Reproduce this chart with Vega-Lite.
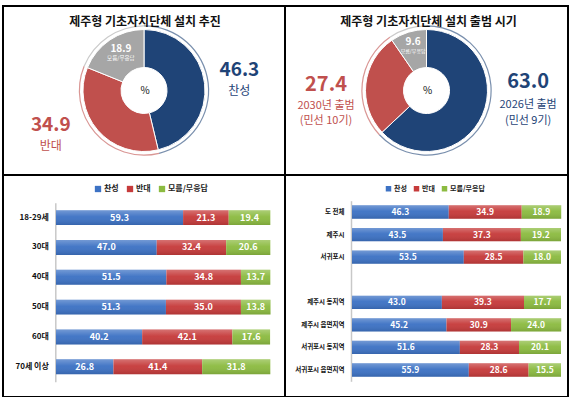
{
  "$schema": "https://vega.github.io/schema/vega-lite/v6.json",
  "background": "white",
  "padding": {"left": 2, "top": 5, "right": 0, "bottom": 0},
  "spacing": 0,
  "bounds": "flush",
  "columns": 2,
  "resolve": {"scale": {"color": "independent", "theta": "independent", "x": "independent", "y": "independent"}},
  "config": {
    "font": "Noto Sans CJK KR",
    "view": {"stroke": "#000000", "strokeWidth": 2},
    "concat": {"spacing": 0}
  },
  "concat": [
    {
      "width": 282,
      "height": 169,
      "view": {"stroke": "#000000", "strokeWidth": 2},
      "data": {"values": [
        {"k": 1, "cat": "찬성", "val": 46.3},
        {"k": 2, "cat": "반대", "val": 34.9},
        {"k": 3, "cat": "모름/무응답", "val": 18.9}
      ]},
      "encoding": {
        "theta": {"field": "val", "type": "quantitative", "stack": true},
        "order": {"field": "k", "type": "quantitative"},
        "color": {"field": "cat", "type": "nominal", "legend": null,
          "scale": {"domain": ["찬성", "반대", "모름/무응답"], "range": ["#1F4477", "#C0504D", "#A6A6A6"]}}
      },
      "layer": [
        {"mark": {"type": "arc", "innerRadius": 23, "outerRadius": 61, "stroke": "white", "strokeWidth": 1}},
        {"mark": {"type": "arc", "innerRadius": 64, "outerRadius": 65.2, "opacity": 0.6}},
        {"mark": {"type": "text", "radius": 0, "fontSize": 12, "fontWeight": "bold", "dx": 1, "dy": -69, "clip": true},
         "encoding": {"color": {"value": "#111111"}, "text": {"condition": {"test": "datum.k==1", "value": "제주형 기초자치단체 설치 추진"}, "value": ""}}},
        {"mark": {"type": "text", "radius": 0, "fontSize": 10, "dx": 1, "clip": true},
         "encoding": {"color": {"value": "#111111"}, "text": {"condition": {"test": "datum.k==1", "value": "%"}, "value": ""}}},
        {"mark": {"type": "text", "radius": 90, "fontSize": 19, "fontWeight": "bold", "dx": 6, "dy": -10, "clip": true},
         "encoding": {"text": {"condition": {"test": "datum.k==1", "field": "val", "type": "quantitative", "format": ".1f"}, "value": ""}}},
        {"mark": {"type": "text", "radius": 90, "fontSize": 12, "dx": 6, "dy": 11, "clip": true},
         "encoding": {"text": {"condition": {"test": "datum.k==1", "field": "cat"}, "value": ""}}},
        {"mark": {"type": "text", "radius": 90, "fontSize": 19, "fontWeight": "bold", "dx": -25, "dy": -24, "clip": true},
         "encoding": {"text": {"condition": {"test": "datum.k==2", "field": "val", "type": "quantitative", "format": ".1f"}, "value": ""}}},
        {"mark": {"type": "text", "radius": 90, "fontSize": 12, "dx": -25, "dy": -3, "clip": true},
         "encoding": {"text": {"condition": {"test": "datum.k==2", "field": "cat"}, "value": ""}}},
        {"mark": {"type": "text", "radius": 45, "fontSize": 10, "fontWeight": "bold", "dx": 2, "dy": -4, "clip": true},
         "encoding": {"color": {"value": "white"}, "text": {"condition": {"test": "datum.k==3", "field": "val", "type": "quantitative", "format": ".1f"}, "value": ""}}},
        {"mark": {"type": "text", "radius": 45, "fontSize": 5.5, "dx": 2, "dy": 5, "clip": true},
         "encoding": {"color": {"value": "white"}, "text": {"condition": {"test": "datum.k==3", "field": "cat"}, "value": ""}}}
      ]
    },
    {
      "width": 283,
      "height": 169,
      "view": {"stroke": "#000000", "strokeWidth": 2},
      "data": {"values": [
        {"k": 1, "cat": "찬성", "val": 63.0, "line1": "2026년 출범", "line2": "(민선 9기)"},
        {"k": 2, "cat": "반대", "val": 27.4, "line1": "2030년 출범", "line2": "(민선 10기)"},
        {"k": 3, "cat": "모름/무응답", "val": 9.6, "line1": "", "line2": ""}
      ]},
      "encoding": {
        "theta": {"field": "val", "type": "quantitative", "stack": true},
        "order": {"field": "k", "type": "quantitative"},
        "color": {"field": "cat", "type": "nominal", "legend": null,
          "scale": {"domain": ["찬성", "반대", "모름/무응답"], "range": ["#1F4477", "#C0504D", "#A6A6A6"]}}
      },
      "layer": [
        {"mark": {"type": "arc", "innerRadius": 23, "outerRadius": 61, "stroke": "white", "strokeWidth": 1}},
        {"mark": {"type": "arc", "innerRadius": 64, "outerRadius": 65.2, "opacity": 0.6}},
        {"mark": {"type": "text", "radius": 0, "fontSize": 12, "fontWeight": "bold", "dx": 2, "dy": -69, "clip": true},
         "encoding": {"color": {"value": "#111111"}, "text": {"condition": {"test": "datum.k==1", "value": "제주형 기초자치단체 설치 출범 시기"}, "value": ""}}},
        {"mark": {"type": "text", "radius": 0, "fontSize": 10, "dx": 1, "clip": true},
         "encoding": {"color": {"value": "#111111"}, "text": {"condition": {"test": "datum.k==1", "value": "%"}, "value": ""}}},
        {"mark": {"type": "text", "radius": 90, "fontSize": 20, "fontWeight": "bold", "dx": 19, "dy": -44, "clip": true},
         "encoding": {"text": {"condition": {"test": "datum.k==1", "field": "val", "type": "quantitative", "format": ".1f"}, "value": ""}}},
        {"mark": {"type": "text", "radius": 90, "fontSize": 11, "dx": 19, "dy": -21, "clip": true},
         "encoding": {"text": {"condition": {"test": "datum.k==1", "field": "line1"}, "value": ""}}},
        {"mark": {"type": "text", "radius": 90, "fontSize": 11, "dx": 19, "dy": -5, "clip": true},
         "encoding": {"text": {"condition": {"test": "datum.k==1", "field": "line2"}, "value": ""}}},
        {"mark": {"type": "text", "radius": 90, "fontSize": 20, "fontWeight": "bold", "dx": -11, "dy": 4, "clip": true},
         "encoding": {"text": {"condition": {"test": "datum.k==2", "field": "val", "type": "quantitative", "format": ".1f"}, "value": ""}}},
        {"mark": {"type": "text", "radius": 90, "fontSize": 11, "dx": -11, "dy": 25, "clip": true},
         "encoding": {"text": {"condition": {"test": "datum.k==2", "field": "line1"}, "value": ""}}},
        {"mark": {"type": "text", "radius": 90, "fontSize": 11, "dx": -11, "dy": 40, "clip": true},
         "encoding": {"text": {"condition": {"test": "datum.k==2", "field": "line2"}, "value": ""}}},
        {"mark": {"type": "text", "radius": 45, "fontSize": 10, "fontWeight": "bold", "dx": 0, "dy": -6, "clip": true},
         "encoding": {"color": {"value": "white"}, "text": {"condition": {"test": "datum.k==3", "field": "val", "type": "quantitative", "format": ".1f"}, "value": ""}}},
        {"mark": {"type": "text", "radius": 45, "fontSize": 5, "dx": 0, "dy": 3, "clip": true},
         "encoding": {"color": {"value": "white"}, "text": {"condition": {"test": "datum.k==3", "field": "cat"}, "value": ""}}}
      ]
    },
    {
      "width": 282,
      "height": 222,
      "data": {"values": [
        {"grp": "18-29세", "k": 1, "cat": "찬성", "val": 59.3},
        {"grp": "18-29세", "k": 2, "cat": "반대", "val": 21.3},
        {"grp": "18-29세", "k": 3, "cat": "모름/무응답", "val": 19.4},
        {"grp": "30대", "k": 1, "cat": "찬성", "val": 47.0},
        {"grp": "30대", "k": 2, "cat": "반대", "val": 32.4},
        {"grp": "30대", "k": 3, "cat": "모름/무응답", "val": 20.6},
        {"grp": "40대", "k": 1, "cat": "찬성", "val": 51.5},
        {"grp": "40대", "k": 2, "cat": "반대", "val": 34.8},
        {"grp": "40대", "k": 3, "cat": "모름/무응답", "val": 13.7},
        {"grp": "50대", "k": 1, "cat": "찬성", "val": 51.3},
        {"grp": "50대", "k": 2, "cat": "반대", "val": 35.0},
        {"grp": "50대", "k": 3, "cat": "모름/무응답", "val": 13.8},
        {"grp": "60대", "k": 1, "cat": "찬성", "val": 40.2},
        {"grp": "60대", "k": 2, "cat": "반대", "val": 42.1},
        {"grp": "60대", "k": 3, "cat": "모름/무응답", "val": 17.6},
        {"grp": "70세 이상", "k": 1, "cat": "찬성", "val": 26.8},
        {"grp": "70세 이상", "k": 2, "cat": "반대", "val": 41.4},
        {"grp": "70세 이상", "k": 3, "cat": "모름/무응답", "val": 31.8}
      ]},
      "encoding": {
        "y": {"field": "grp", "type": "nominal",
          "scale": {"domain": ["18-29세", "30대", "40대", "50대", "60대", "70세 이상"], "range": [27.7, 206.7], "paddingInner": 0.5, "paddingOuter": 0.25},
          "axis": {"title": null, "offset": -52.3, "ticks": false, "domainColor": "#C8C8C8", "domainWidth": 1.5, "labelPadding": 7, "labelFontSize": 8, "labelFontWeight": "bold", "labelColor": "#111111"}},
        "order": {"field": "k", "type": "quantitative"}
      },
      "layer": [
        {"mark": {"type": "bar"},
         "encoding": {
           "x": {"field": "val", "type": "quantitative", "stack": "zero", "axis": null, "scale": {"domain": [0, 100], "nice": false, "range": [53, 267.3]}},
           "color": {"field": "cat", "type": "nominal",
             "scale": {"domain": ["찬성", "반대", "모름/무응답"], "range": ["#3D72C4", "#C63B3B", "#8CBB41"]},
             "legend": {"orient": "none", "legendX": 91, "legendY": 10, "direction": "horizontal", "title": null, "symbolType": "square", "symbolSize": 40, "symbolStrokeWidth": 0, "labelFontSize": 8, "labelFontWeight": "bold", "labelColor": "#222222", "columnPadding": 7, "labelOffset": 2}}
         }},
        {"mark": {"type": "bar", "fill": {"gradient": "linear", "x1": 0, "y1": 0, "x2": 0, "y2": 1, "stops": [{"offset": 0, "color": "rgba(255,255,255,0.28)"}, {"offset": 0.45, "color": "rgba(255,255,255,0.04)"}, {"offset": 1, "color": "rgba(0,0,0,0.12)"}]}},
         "encoding": {
           "x": {"field": "val", "type": "quantitative", "stack": "zero"},
           "detail": {"field": "cat"}
         }},
        {"mark": {"type": "text", "color": "white", "fontWeight": "bold", "fontSize": 9},
         "encoding": {
           "x": {"field": "val", "type": "quantitative", "stack": "zero", "bandPosition": 0.5},
           "detail": {"field": "cat"},
           "text": {"field": "val", "type": "quantitative", "format": ".1f"}
         }}
      ]
    },
    {
      "width": 283,
      "height": 222,
      "data": {"values": [
        {"grp": "도 전체", "k": 1, "cat": "찬성", "val": 46.3},
        {"grp": "도 전체", "k": 2, "cat": "반대", "val": 34.9},
        {"grp": "도 전체", "k": 3, "cat": "모름/무응답", "val": 18.9},
        {"grp": "제주시", "k": 1, "cat": "찬성", "val": 43.5},
        {"grp": "제주시", "k": 2, "cat": "반대", "val": 37.3},
        {"grp": "제주시", "k": 3, "cat": "모름/무응답", "val": 19.2},
        {"grp": "서귀포시", "k": 1, "cat": "찬성", "val": 53.5},
        {"grp": "서귀포시", "k": 2, "cat": "반대", "val": 28.5},
        {"grp": "서귀포시", "k": 3, "cat": "모름/무응답", "val": 18.0},
        {"grp": "제주시 동지역", "k": 1, "cat": "찬성", "val": 43.0},
        {"grp": "제주시 동지역", "k": 2, "cat": "반대", "val": 39.3},
        {"grp": "제주시 동지역", "k": 3, "cat": "모름/무응답", "val": 17.7},
        {"grp": "제주시 읍면지역", "k": 1, "cat": "찬성", "val": 45.2},
        {"grp": "제주시 읍면지역", "k": 2, "cat": "반대", "val": 30.9},
        {"grp": "제주시 읍면지역", "k": 3, "cat": "모름/무응답", "val": 24.0},
        {"grp": "서귀포시 동지역", "k": 1, "cat": "찬성", "val": 51.6},
        {"grp": "서귀포시 동지역", "k": 2, "cat": "반대", "val": 28.3},
        {"grp": "서귀포시 동지역", "k": 3, "cat": "모름/무응답", "val": 20.1},
        {"grp": "서귀포시 읍면지역", "k": 1, "cat": "찬성", "val": 55.9},
        {"grp": "서귀포시 읍면지역", "k": 2, "cat": "반대", "val": 28.6},
        {"grp": "서귀포시 읍면지역", "k": 3, "cat": "모름/무응답", "val": 15.5}
      ]},
      "encoding": {
        "y": {"field": "grp", "type": "nominal",
          "scale": {"domain": ["도 전체", "제주시", "서귀포시", " ", "제주시 동지역", "제주시 읍면지역", "서귀포시 동지역", "서귀포시 읍면지역"], "range": [25.7, 206.3], "paddingInner": 0.41, "paddingOuter": 0.205},
          "axis": {"title": null, "offset": -66, "ticks": false, "domainColor": "#C8C8C8", "domainWidth": 1.5, "labelPadding": 7, "labelFontSize": 6.5, "labelFontWeight": "bold", "labelColor": "#111111"}},
        "order": {"field": "k", "type": "quantitative"}
      },
      "layer": [
        {"mark": {"type": "bar"},
         "encoding": {
           "x": {"field": "val", "type": "quantitative", "stack": "zero", "axis": null, "scale": {"domain": [0, 100], "nice": false, "range": [67, 276]}},
           "color": {"field": "cat", "type": "nominal",
             "scale": {"domain": ["찬성", "반대", "모름/무응답"], "range": ["#3D72C4", "#C63B3B", "#8CBB41"]},
             "legend": {"orient": "none", "legendX": 100, "legendY": 10, "direction": "horizontal", "title": null, "symbolType": "square", "symbolSize": 30, "symbolStrokeWidth": 0, "labelFontSize": 7, "labelFontWeight": "bold", "labelColor": "#222222", "columnPadding": 6, "labelOffset": 2}}
         }},
        {"mark": {"type": "bar", "fill": {"gradient": "linear", "x1": 0, "y1": 0, "x2": 0, "y2": 1, "stops": [{"offset": 0, "color": "rgba(255,255,255,0.28)"}, {"offset": 0.45, "color": "rgba(255,255,255,0.04)"}, {"offset": 1, "color": "rgba(0,0,0,0.12)"}]}},
         "encoding": {
           "x": {"field": "val", "type": "quantitative", "stack": "zero"},
           "detail": {"field": "cat"}
         }},
        {"mark": {"type": "text", "color": "white", "fontWeight": "bold", "fontSize": 8.5},
         "encoding": {
           "x": {"field": "val", "type": "quantitative", "stack": "zero", "bandPosition": 0.5},
           "detail": {"field": "cat"},
           "text": {"field": "val", "type": "quantitative", "format": ".1f"}
         }}
      ]
    }
  ]
}
